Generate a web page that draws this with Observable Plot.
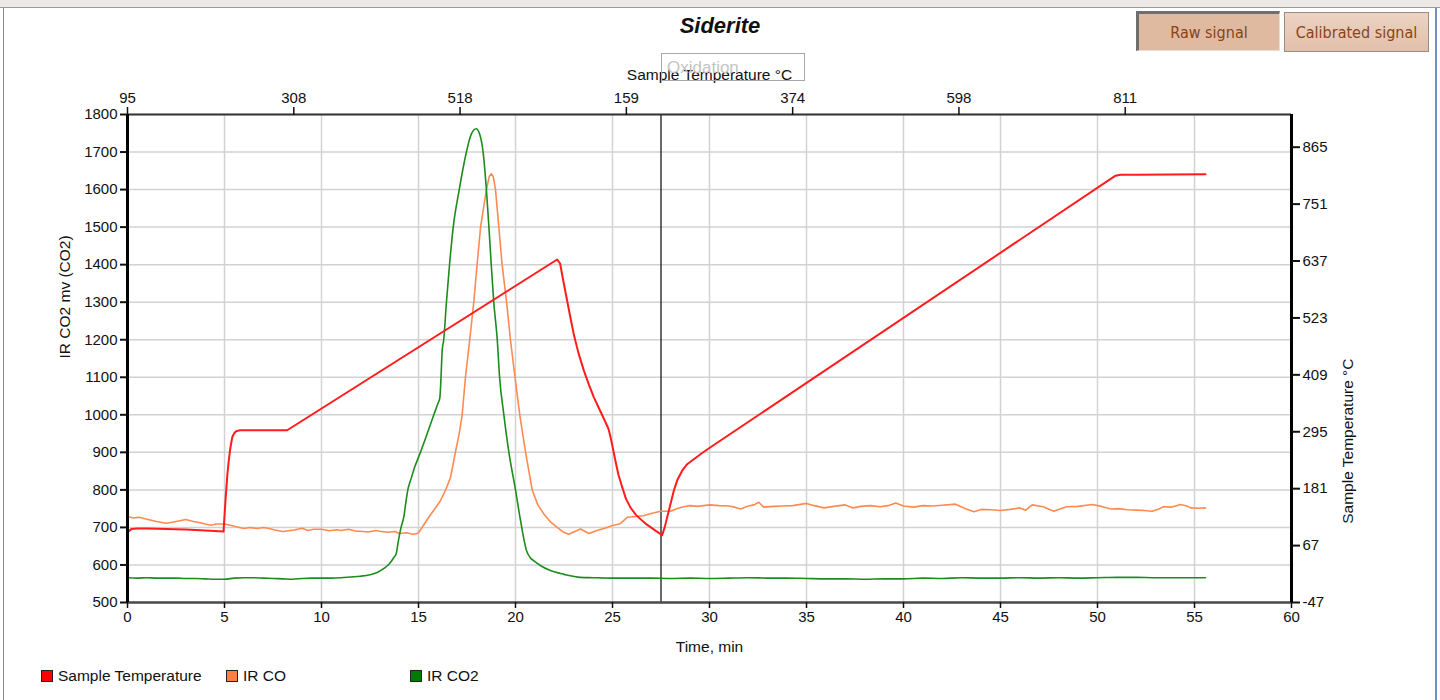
<!DOCTYPE html>
<html>
<head>
<meta charset="utf-8">
<script src="https://cdn.jsdelivr.net/npm/d3@7"></script>
<script src="https://cdn.jsdelivr.net/npm/@observablehq/plot@0.6"></script>
<style>
  html, body { margin: 0; padding: 0; background: #fff; }
  body { width: 1440px; height: 700px; overflow: hidden; font-family: "Liberation Sans", Arial, sans-serif; }
  #wrap { position: relative; width: 1440px; height: 700px; }
  #chart { position: absolute; left: 0; top: 0; }
  .ov { position: absolute; }
  #title { left: 0; width: 1440px; top: 13px; text-align: center; font-weight: bold; font-style: italic; font-size: 22px; color: #111; }
  .btn { box-sizing: border-box; height: 40px; display: flex; align-items: center; justify-content: center; font-size: 16px; color: #8a4418; font-family: "DejaVu Sans Condensed", "Liberation Sans", sans-serif; }
  #raw { left: 1136px; top: 11px; width: 144px; background: #dfb9a0; border-top: 3px solid #6e6e6e; border-left: 3px solid #6e6e6e; border-right: 1px solid #e9ddd5; border-bottom: 1px solid #e9ddd5; }
  #cal { left: 1284px; top: 12px; width: 145px; background: linear-gradient(#ecd3c3, #e2c0ab); border: 1.5px solid #9b8b85; }
  #oxid { left: 661px; top: 53px; width: 144px; height: 28px; box-sizing: border-box; border: 1px solid #a8a8a8; color: #c4c4c4; font-size: 17px; padding-left: 5px; line-height: 27px; }
  .leg { top: 667px; font-size: 15.5px; color: #111; display: flex; align-items: center; }
  .sw { width: 10px; height: 10px; border: 1px solid #222; margin-right: 5px; }
  #topbar { left: 0; top: 0; width: 1440px; height: 7px; background: #ece9e6; border-bottom: 1px solid #9a9a9a; }
  #leftbar { left: 3px; top: 8px; width: 1px; height: 692px; background: #8a8a8a; }
  #rightbar { left: 1435px; top: 8px; width: 2px; height: 692px; background: #6f8fc4; }
</style>
</head>
<body>
<div id="wrap">
  <div id="chart"></div>
</div>
<script>
// ---------- data ----------
const chartTitle = "Siderite";
const seriesNames = ["Sample Temperature", "IR CO", "IR CO2"];
const seriesColors = ["#ff1c1c", "#ff8a50", "#1d8c1d"];

// Sample Temperature (°C) vs time (min)
const tempTime  = [0, 0.2, 0.5, 1, 2, 3, 4, 4.95, 5.05, 5.15, 5.22, 5.3, 5.4, 5.5, 5.6, 5.8, 7, 8.23, 22.15, 22.3, 22.45, 22.66, 22.85, 23.0, 23.25, 23.52, 23.78, 24.04, 24.35, 24.64, 24.8, 24.9, 25.02, 25.15, 25.3, 25.5, 25.7, 25.93, 26.2, 26.44, 26.7, 26.96, 27.25, 27.56, 27.7, 27.82, 28.0, 28.16, 28.35, 28.59, 28.85, 29.19, 29.6, 30.05, 50.93, 51.2, 52, 55.57];
const tempValue = [94, 100, 101, 101, 100, 99, 97, 95, 157, 210, 237, 262, 284, 292, 296, 298, 298, 298, 640, 632, 600, 558, 520, 491, 452, 418, 390, 364, 338, 314, 300, 284, 262, 237, 210, 184, 160, 143, 129, 120, 111, 104, 96, 88, 105, 124, 152, 177, 199, 217, 230, 240, 252, 264, 808, 810, 810, 811];

// IR CO (mV) vs time (min)
const coTime  = [0, 0.3, 0.6, 1.0, 1.5, 2.0, 2.3, 2.7, 3.0, 3.4, 3.8, 4.0, 4.3, 4.6, 5.0, 5.3, 5.6, 6.0, 6.3, 6.7, 7.0, 7.3, 7.6, 8.0, 8.3, 8.6, 9.0, 9.3, 9.6, 10.0, 10.4, 10.8, 11.0, 11.4, 11.8, 12.0, 12.4, 12.8, 13.0, 13.4, 13.8, 14.0, 14.4, 14.7, 14.9, 15.02, 15.53, 16.13, 16.4, 16.65, 16.9, 17.1, 17.25, 17.42, 17.64, 17.85, 18.02, 18.2, 18.5, 18.65, 18.75, 18.85, 18.97, 19.14, 19.31, 19.54, 19.74, 19.95, 20.22, 20.52, 20.86, 21.15, 21.46, 21.8, 22.15, 22.45, 22.75, 23.0, 23.35, 23.78, 24.2, 24.6, 25.0, 25.4, 25.76, 26.2, 26.6, 27.0, 27.47, 27.99, 28.3, 28.67, 29.0, 29.4, 30.0, 30.5, 31.0, 31.3, 31.6, 32.0, 32.3, 32.54, 32.8, 33.3, 33.8, 34.3, 35.0, 35.4, 35.9, 36.4, 37.0, 37.4, 37.8, 38.3, 38.8, 39.2, 39.6, 40.0, 40.53, 41.0, 41.5, 42.0, 42.68, 43.2, 43.63, 44.0, 44.5, 45.0, 45.5, 46.0, 46.3, 46.63, 47.2, 47.75, 48.1, 48.4, 49.0, 49.73, 50.2, 50.7, 51.1, 51.53, 52.0, 52.4, 52.82, 53.1, 53.4, 53.8, 54.28, 54.6, 54.8, 55.2, 55.57];
const coValue = [729, 725, 727, 722, 716, 711, 714, 718, 721, 716, 712, 709, 706, 709, 709, 706, 702, 697, 700, 697, 700, 697, 693, 689, 691, 693, 698, 692, 695, 695, 691, 694, 692, 695, 690, 690, 688, 692, 690, 687, 689, 684, 686, 682, 683, 687, 727, 771, 800, 833, 900, 950, 1000, 1100, 1200, 1300, 1400, 1500, 1600, 1635, 1642, 1635, 1600, 1500, 1400, 1300, 1200, 1110, 1000, 900, 800, 760, 736, 715, 700, 688, 682, 688, 696, 684, 692, 698, 705, 710, 727, 729, 731, 737, 743, 743, 750, 755, 758, 756, 760, 758, 757, 754, 749, 757, 760, 767, 754, 756, 757, 758, 764, 758, 752, 756, 760, 752, 756, 758, 755, 758, 765, 757, 754, 758, 757, 759, 762, 750, 742, 748, 747, 745, 748, 752, 746, 760, 755, 743, 750, 755, 756, 761, 756, 749, 750, 747, 746, 745, 743, 748, 755, 754, 761, 757, 752, 751, 752];

// IR CO2 (mV) vs time (min)
const co2Time  = [0, 0.5, 1, 1.5, 2, 2.5, 3, 3.5, 4, 4.5, 5, 5.5, 6, 6.5, 7, 7.5, 8, 8.5, 9, 9.5, 10, 10.5, 11, 11.5, 12, 12.5, 12.87, 13.2, 13.5, 13.73, 13.85, 13.95, 14.1, 14.25, 14.33, 14.45, 14.62, 14.8, 15.1, 15.45, 15.79, 16.0, 16.1, 16.16, 16.22, 16.3, 16.44, 16.6, 16.79, 17.1, 17.47, 17.7, 17.97, 18.15, 18.33, 18.5, 18.63, 18.75, 18.88, 19.06, 19.18, 19.4, 19.66, 20.0, 20.26, 20.57, 20.75, 20.95, 21.3, 21.8, 22.5, 23.35, 24, 25, 26, 27, 28, 29, 30, 31, 32, 33, 34, 35, 36, 37, 38, 39, 40, 41, 42, 43, 44, 45, 46, 47, 48, 49, 50, 51, 52, 53, 54, 55, 55.57];
const co2Value = [566, 565, 566, 565, 565, 565, 564, 564, 563, 562, 562, 565, 566, 566, 565, 564, 563, 562, 564, 565, 565, 565, 566, 568, 570, 574, 580, 590, 603, 620, 630, 660, 700, 730, 760, 800, 830, 860, 900, 950, 1000, 1030, 1045, 1100, 1170, 1200, 1300, 1400, 1500, 1600, 1700, 1745, 1762, 1748, 1700, 1600, 1500, 1400, 1300, 1200, 1100, 1000, 900, 800, 718, 638, 620, 611, 598, 585, 575, 567, 566, 565, 565, 565, 564, 565, 564, 565, 566, 565, 565, 564, 563, 563, 562, 563, 563, 565, 564, 566, 565, 565, 566, 565, 566, 565, 566, 567, 567, 566, 566, 566, 566];

// axes
const xTicks = [0, 5, 10, 15, 20, 25, 30, 35, 40, 45, 50, 55, 60];
const leftTicks = [500, 600, 700, 800, 900, 1000, 1100, 1200, 1300, 1400, 1500, 1600, 1700, 1800];
const rightTicks = [-47, 67, 181, 295, 409, 523, 637, 751, 865];
const topTickLabels = ["95", "308", "518", "159", "374", "598", "811"];
const markerTime = 27.5;
const xDomain = [0, 60];
const leftDomain = [500, 1800];
const rightDomain = [-47, 930.5];
const leftTitle = "IR CO2 mv (CO2)";
const rightTitle = "Sample Temperature °C";
const bottomTitle = "Time, min";
const topTitle = "Sample Temperature °C";

// ---------- build ----------
const toLeft = d3.scaleLinear(rightDomain, leftDomain);
const toTemp = d3.scaleLinear(leftDomain, rightDomain);
const topTickTimes = topTickLabels.map((_, i) => i * (xDomain[1] - xDomain[0]) / topTickLabels.length);

const tempData = tempTime.map((t, i) => ({t, v: toLeft(tempValue[i])}));
const coData = coTime.map((t, i) => ({t, v: coValue[i]}));
const co2Data = co2Time.map((t, i) => ({t, v: co2Value[i]}));

const axisFont = {fontSize: 15};
const titleFont = {fontSize: 15.5};
const chart = Plot.plot({
  width: 1440,
  height: 700,
  marginLeft: 127,
  marginRight: 149,
  marginTop: 114,
  marginBottom: 98,
  x: {domain: xDomain},
  y: {domain: leftDomain},
  style: {fontFamily: "'Liberation Sans', Arial, sans-serif", fontSize: "15px", color: "#111", background: "white"},
  marks: [
    Plot.gridX(xTicks, {stroke: "#d2d2d2", strokeOpacity: 1, strokeWidth: 1.5}),
    Plot.gridY(leftTicks, {stroke: "#d2d2d2", strokeOpacity: 1, strokeWidth: 1.5}),
    Plot.ruleX([markerTime], {stroke: "#1a1a1a", strokeWidth: 1.3}),
    Plot.line(coData, {x: "t", y: "v", stroke: seriesColors[1], strokeWidth: 1.6}),
    Plot.line(co2Data, {x: "t", y: "v", stroke: seriesColors[2], strokeWidth: 1.6, curve: "monotone-x"}),
    Plot.line(tempData, {x: "t", y: "v", stroke: seriesColors[0], strokeWidth: 2}),
    Plot.ruleY([leftDomain[1]], {stroke: "#333", strokeWidth: 2}),
    Plot.ruleY([leftDomain[0]], {stroke: "#4a4a4a", strokeWidth: 2.5}),
    Plot.ruleX([xDomain[0]], {stroke: "#000", strokeWidth: 3}),
    Plot.ruleX([xDomain[1]], {stroke: "#000", strokeWidth: 3}),
    Plot.axisX(xTicks, {anchor: "bottom", tickSize: 6, tickPadding: 3, label: null, strokeWidth: 1.5,
      tickFormat: d => String(d), ...axisFont}),
    Plot.axisX(topTickTimes, {anchor: "top", tickSize: 8, tickPadding: 4, label: null, strokeWidth: 1.5,
      tickFormat: d => topTickLabels[topTickTimes.indexOf(d)], ...axisFont}),
    Plot.axisY(leftTicks, {anchor: "left", tickSize: 7, tickPadding: 3, label: null, strokeWidth: 2,
      tickFormat: d => String(d), ...axisFont}),
    Plot.axisY(rightTicks.map(toLeft), {anchor: "right", tickSize: 8, tickPadding: 3, label: null, strokeWidth: 2,
      tickFormat: d => String(Math.round(toTemp(d))), ...axisFont}),
    Plot.text([leftTitle], {frameAnchor: "left", rotate: -90, dx: -62, ...titleFont}),
    Plot.text([rightTitle], {frameAnchor: "right", rotate: -90, dx: 57, ...titleFont}),
    Plot.text([bottomTitle], {frameAnchor: "bottom", dy: 49, ...titleFont}),
    Plot.text([topTitle], {frameAnchor: "top", dy: -46, ...titleFont})
  ]
});
document.getElementById("chart").appendChild(chart);

// ---------- overlays ----------
const wrap = document.getElementById("wrap");
function add(html) { wrap.insertAdjacentHTML("beforeend", html); }
add(`<div class="ov" id="title">${chartTitle}</div>`);
add(`<div class="ov btn" id="raw">Raw signal</div>`);
add(`<div class="ov btn" id="cal">Calibrated signal</div>`);
add(`<div class="ov" id="oxid">Oxidation</div>`);
const legendX = [41, 226, 410];
const legendSw = ["#ff0000", "#ff8040", "#007a00"];
seriesNames.forEach((n, i) => {
  add(`<div class="ov leg" style="left:${legendX[i]}px"><span class="sw" style="background:${legendSw[i]}"></span>${n}</div>`);
});
add(`<div class="ov" id="topbar"></div>`);
add(`<div class="ov" id="leftbar"></div>`);
add(`<div class="ov" id="rightbar"></div>`);
</script>
</body>
</html>
